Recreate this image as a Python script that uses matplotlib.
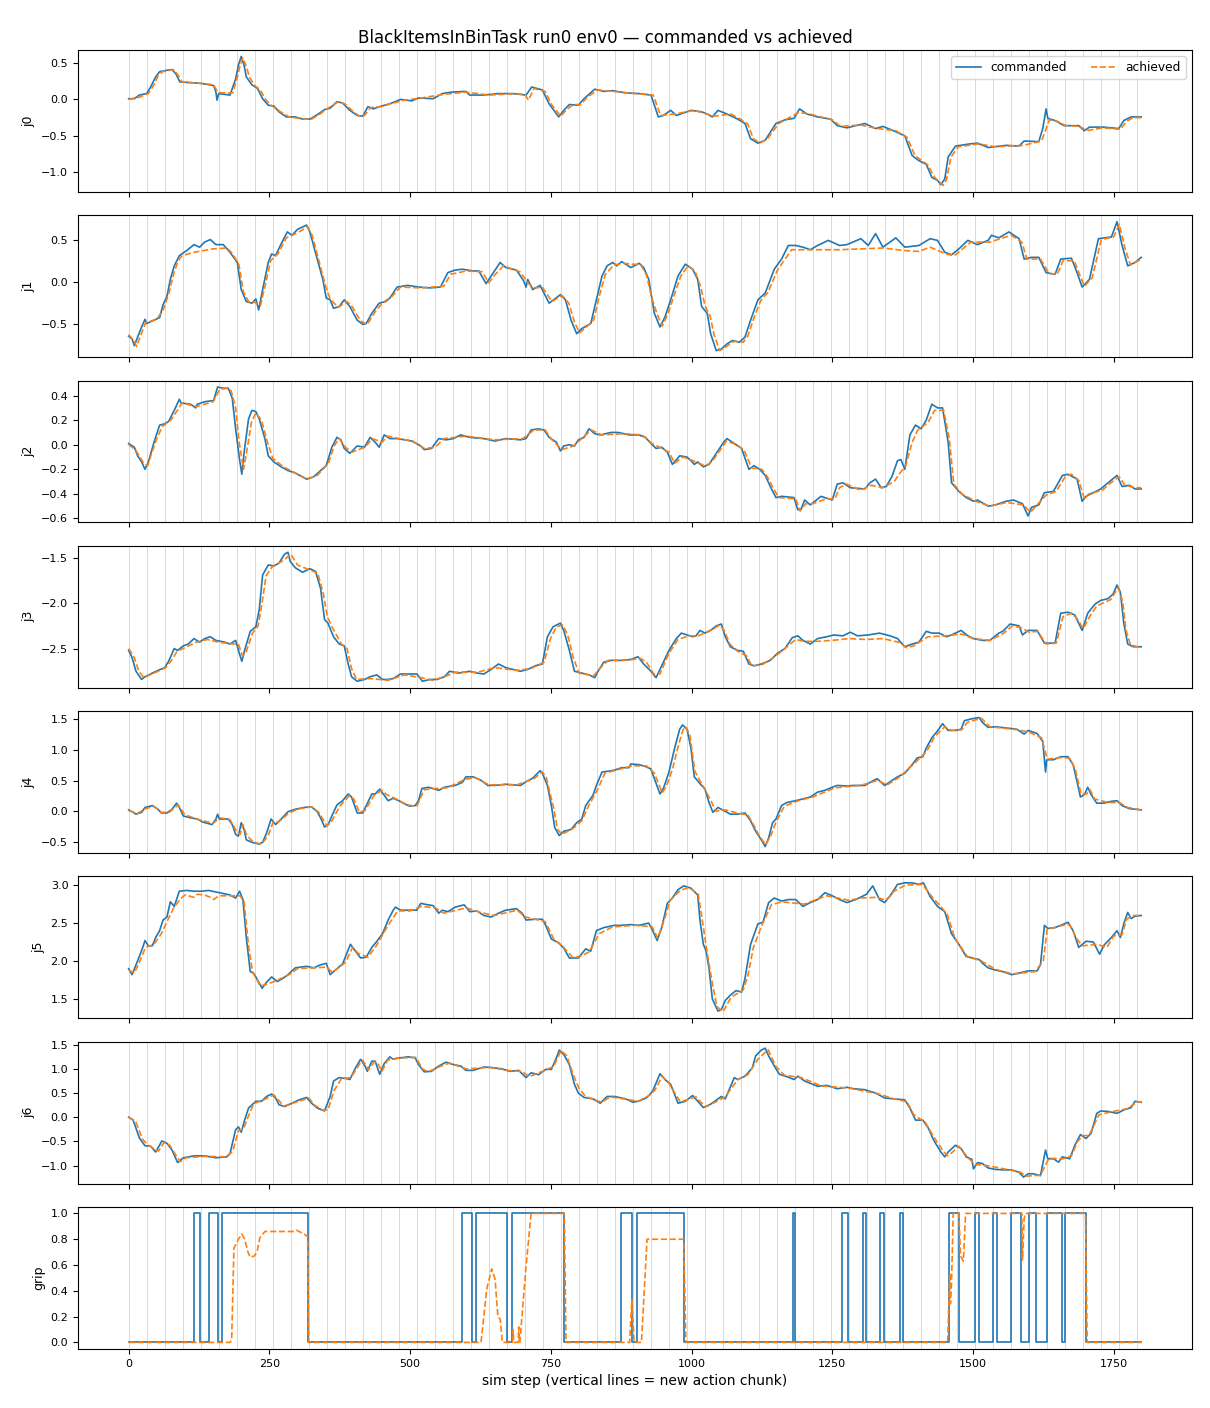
import numpy as np
import matplotlib
matplotlib.use("Agg")
import matplotlib.pyplot as plt

TITLE = "BlackItemsInBinTask run0 env0 — commanded vs achieved"
N_STEPS = 1800
CHUNK = 32  # steps per action chunk (vertical lines)

# ── joint traces, (sim step, value) ──
j0_cmd = [(0,0.01),(10,0.01),(19,0.06),(32,0.08),(39,0.17),(48,0.31),(55,0.38),(68,0.40),(77,0.41),(84,0.35),(91,0.24),(110,0.23),(129,0.22),(151,0.19),(155,0.10),(157,-0.01),(160,0.08),(180,0.06),(190,0.28),(195,0.47),(200,0.59),(205,0.47),(209,0.31),(219,0.20),(229,0.15),(238,0.01),(248,-0.08),(258,-0.09),(267,-0.17),(280,-0.24),(296,-0.24),(309,-0.27),(322,-0.27),(335,-0.21),(348,-0.14),(358,-0.12),(370,-0.03),(380,-0.05),(393,-0.15),(406,-0.22),(416,-0.23),(425,-0.10),(435,-0.13),(445,-0.10),(464,-0.06),(483,0.00),(503,-0.02),(515,0.02),(541,0.01),(557,0.08),(573,0.10),(599,0.11),(606,0.06),(631,0.06),(657,0.08),(683,0.08),(706,0.06),(716,0.17),(735,0.13),(747,-0.06),(764,-0.24),(773,-0.15),(783,-0.07),(799,-0.08),(809,0.01),(828,0.14),(844,0.11),(860,0.12),(883,0.09),(907,0.08),
          (928,0.06),(941,-0.24),(950,-0.22),(963,-0.15),(973,-0.22),(999,-0.15),(1018,-0.17),(1028,-0.20),(1037,-0.24),(1047,-0.15),(1063,-0.20),(1082,-0.27),(1095,-0.33),(1105,-0.54),(1118,-0.60),(1131,-0.56),(1150,-0.33),(1166,-0.28),(1182,-0.26),(1192,-0.13),(1205,-0.20),(1224,-0.24),(1247,-0.27),(1259,-0.36),(1276,-0.39),(1308,-0.33),(1327,-0.40),(1340,-0.37),(1359,-0.43),(1379,-0.50),(1392,-0.77),(1404,-0.84),(1417,-0.89),(1427,-1.07),(1437,-1.11),(1443,-1.17),(1450,-1.09),(1456,-0.79),(1469,-0.64),(1495,-0.61),(1508,-0.60),(1527,-0.66),(1559,-0.63),(1582,-0.64),(1591,-0.57),(1617,-0.58),(1624,-0.40),(1630,-0.13),(1633,-0.26),(1646,-0.29),(1662,-0.36),(1688,-0.36),(1698,-0.43),(1707,-0.38),(1733,-0.38),(1759,-0.40),(1768,-0.29),(1781,-0.24),(1799,-0.24)]
j0_ach = [(0,0.00),(19,0.03),(35,0.08),(45,0.20),(52,0.32),(60,0.38),(80,0.41),(88,0.33),(95,0.24),(129,0.22),(151,0.20),(158,0.10),(165,0.09),(185,0.09),(193,0.30),(198,0.47),(203,0.57),(209,0.45),(215,0.30),(224,0.19),(234,0.13),(243,0.00),(253,-0.08),(270,-0.17),(285,-0.24),(312,-0.27),(325,-0.27),(340,-0.20),(352,-0.13),(373,-0.03),(384,-0.06),(398,-0.16),(410,-0.23),(419,-0.22),(430,-0.11),(449,-0.10),(470,-0.05),(490,-0.01),(520,0.02),(560,0.07),(600,0.10),(640,0.06),(690,0.08),(705,0.06),(710,-0.01),(714,0.05),(720,0.15),(740,0.11),(752,-0.08),(768,-0.23),(778,-0.14),(790,-0.07),(803,-0.07),(815,0.03),(833,0.13),(860,0.11),(900,0.08),(932,0.06),(945,-0.22),(970,-0.20),(1005,-0.15),(1040,-0.23),(1070,-0.20),(1087,-0.27),(1100,-0.34),(1110,-0.54),(1122,-0.60),(1136,-0.53),(1155,-0.33),(1190,-0.18),(1210,-0.20),(1250,-0.28),(1265,-0.37),(1300,-0.35),(1330,-0.40),(1363,-0.43),(1383,-0.52),(1397,-0.77),(1420,-0.90),(1432,-1.07),(1447,-1.18),(1453,-1.10),(1461,-0.79),(1474,-0.65),(1510,-0.61),(1540,-0.65),(1590,-0.63),(1622,-0.57),(1630,-0.40),(1636,-0.28),(1650,-0.30),(1665,-0.36),(1690,-0.37),(1702,-0.43),(1730,-0.39),(1762,-0.41),(1773,-0.30),(1785,-0.25),(1799,-0.25)]

j1_cmd = [(0,-0.64),(6,-0.67),(10,-0.75),(16,-0.65),(23,-0.53),(29,-0.44),(32,-0.49),(45,-0.45),(55,-0.42),(61,-0.27),(68,-0.17),(74,0.03),(81,0.19),(90,0.31),(103,0.37),(116,0.44),(126,0.41),(135,0.47),(145,0.50),(155,0.44),(168,0.44),(180,0.35),(193,0.23),(200,-0.09),(209,-0.23),(219,-0.25),(226,-0.20),(231,-0.33),(238,-0.09),(248,0.23),(254,0.33),(261,0.31),(271,0.45),(282,0.59),(290,0.55),(300,0.62),(316,0.67),(322,0.59),(335,0.27),(345,0.03),(351,-0.19),(358,-0.21),(364,-0.31),(374,-0.29),(383,-0.21),(393,-0.29),(406,-0.45),(416,-0.50),(422,-0.49),(432,-0.37),(445,-0.25),(457,-0.23),(464,-0.19),(477,-0.06),(496,-0.04),(515,-0.06),(535,-0.07),(554,-0.06),(567,0.11),(580,0.14),(593,0.15),(612,0.13),(622,0.13),(635,-0.02),(644,0.07),(660,0.23),(670,0.17),(689,0.14),(702,0.01),(706,-0.06),(709,0.03),(718,-0.09),(731,-0.04),(747,-0.25),(767,-0.15),(776,-0.21),(786,-0.45),(796,-0.61),(805,-0.55),(821,-0.49),(831,-0.21),(841,0.07),(850,0.19),(860,0.23),(867,0.19),(876,0.24),(892,0.17),(907,0.22),
          (915,0.17),(924,0.03),(934,-0.37),(944,-0.53),(953,-0.41),(963,-0.21),(976,0.07),(989,0.21),(1002,0.15),(1011,0.03),(1018,-0.29),(1028,-0.37),(1034,-0.61),(1044,-0.81),(1053,-0.79),(1063,-0.73),(1073,-0.69),(1085,-0.71),(1095,-0.65),(1105,-0.45),(1118,-0.21),(1131,-0.13),(1147,0.15),(1160,0.27),(1172,0.43),(1185,0.43),(1198,0.41),(1211,0.38),(1224,0.43),(1243,0.49),(1263,0.43),(1276,0.44),(1301,0.51),(1314,0.43),(1327,0.57),(1340,0.41),(1363,0.52),(1379,0.41),(1404,0.43),(1424,0.51),(1437,0.49),(1450,0.35),(1462,0.32),(1475,0.39),(1491,0.49),(1508,0.44),(1527,0.49),(1533,0.55),(1546,0.52),(1564,0.59),(1582,0.51),(1591,0.27),(1604,0.29),(1617,0.29),(1630,0.11),(1646,0.09),(1656,0.27),(1675,0.28),(1685,0.11),(1694,-0.06),(1707,0.03),(1723,0.51),(1746,0.53),(1756,0.71),(1765,0.43),(1775,0.19),(1788,0.23),(1799,0.29)]
j1_ach = [(0,-0.62),(10,-0.70),(14,-0.76),(22,-0.62),(30,-0.48),(50,-0.44),(62,-0.32),(72,-0.12),(80,0.10),(88,0.25),(95,0.31),(116,0.35),(150,0.39),(175,0.40),(185,0.33),(196,0.20),(204,-0.12),(214,-0.24),(224,-0.24),(234,-0.28),(244,0.00),(252,0.25),(265,0.33),(280,0.52),(300,0.58),(318,0.65),(326,0.55),(340,0.20),(350,-0.05),(358,-0.20),(372,-0.30),(388,-0.23),(398,-0.30),(412,-0.46),(424,-0.50),(438,-0.35),(452,-0.24),(468,-0.17),(483,-0.06),(520,-0.07),(560,-0.05),(572,0.09),(600,0.13),(628,0.12),(640,-0.01),(650,0.08),(666,0.19),(695,0.12),(712,-0.03),(722,-0.07),(735,-0.06),(752,-0.23),(770,-0.16),(782,-0.25),(792,-0.47),(801,-0.60),(812,-0.54),(826,-0.45),(836,-0.17),(847,0.09),(862,0.20),(880,0.22),(910,0.20),(920,0.08),(930,-0.20),(939,-0.38),(948,-0.52),(958,-0.38),(968,-0.18),(981,0.07),(994,0.19),(1006,0.13),(1016,-0.05),(1024,-0.28),(1033,-0.40),(1040,-0.62),(1050,-0.81),(1060,-0.77),(1075,-0.70),(1092,-0.71),(1100,-0.64),(1110,-0.44),(1123,-0.22),(1136,-0.12),(1152,0.13),(1165,0.26),(1178,0.38),(1211,0.38),(1263,0.38),(1301,0.39),(1340,0.40),(1379,0.37),(1404,0.36),(1424,0.41),(1452,0.33),(1467,0.31),(1480,0.38),(1496,0.47),(1530,0.47),(1568,0.55),(1587,0.47),(1596,0.27),(1620,0.27),(1635,0.10),(1650,0.09),(1660,0.25),(1680,0.25),(1690,0.08),(1698,-0.05),(1712,0.05),(1728,0.50),(1750,0.53),(1760,0.68),(1770,0.40),(1780,0.20),(1799,0.27)]

j2_cmd = [(0,0.01),(10,-0.02),(16,-0.09),(23,-0.14),(29,-0.20),(35,-0.14),(45,0.02),(55,0.16),(64,0.17),(71,0.19),(81,0.28),(90,0.37),(93,0.34),(110,0.33),(119,0.30),(122,0.33),(135,0.35),(151,0.36),(158,0.47),(168,0.46),(177,0.46),(184,0.38),(190,0.13),(197,-0.12),(201,-0.24),(206,-0.03),(213,0.21),(219,0.28),(226,0.27),(232,0.21),(242,0.05),(248,-0.09),(258,-0.14),(271,-0.18),(283,-0.21),(296,-0.23),(316,-0.28),(329,-0.26),(341,-0.21),(351,-0.17),(361,-0.02),(370,0.06),(377,0.04),(383,-0.03),(393,-0.07),(406,-0.01),(419,-0.02),(429,0.06),(438,0.02),(445,-0.02),(454,0.08),(464,0.05),(477,0.05),(503,0.03),(519,-0.01),(525,-0.04),(538,-0.03),(551,0.05),(564,0.04),(577,0.05),(590,0.08),(606,0.06),(631,0.05),(651,0.03),(670,0.05),(696,0.04),(706,0.05),(715,0.12),(728,0.13),(738,0.12),(747,0.06),(760,0.02),(767,-0.05),(773,-0.01),(783,0.00),(792,-0.01),(799,0.04),(809,0.06),(818,0.13),(828,0.09),(838,0.08),(857,0.10),(870,0.10),(889,0.08),(907,0.08),
          (918,0.06),(928,0.01),(937,-0.03),(947,-0.02),(957,-0.06),(966,-0.16),(979,-0.09),(992,-0.10),(999,-0.13),(1005,-0.16),(1011,-0.14),(1021,-0.18),(1031,-0.16),(1044,-0.07),(1057,0.02),(1063,0.05),(1076,0.01),(1089,-0.03),(1102,-0.20),(1111,-0.17),(1121,-0.20),(1131,-0.25),(1140,-0.34),(1150,-0.43),(1160,-0.42),(1182,-0.43),(1189,-0.53),(1195,-0.52),(1201,-0.45),(1211,-0.49),(1230,-0.42),(1250,-0.45),(1259,-0.32),(1269,-0.31),(1282,-0.35),(1308,-0.36),(1317,-0.31),(1327,-0.28),(1337,-0.35),(1346,-0.34),(1356,-0.26),(1366,-0.13),(1372,-0.12),(1379,-0.20),(1388,0.08),(1398,0.16),(1408,0.13),(1417,0.20),(1427,0.33),(1437,0.30),(1446,0.30),(1456,0.02),(1462,-0.31),(1475,-0.38),(1488,-0.43),(1501,-0.46),(1508,-0.45),(1527,-0.50),(1540,-0.49),(1559,-0.46),(1572,-0.45),(1588,-0.48),(1598,-0.58),(1604,-0.51),(1617,-0.49),(1627,-0.39),(1643,-0.38),(1659,-0.25),(1669,-0.24),(1685,-0.28),(1694,-0.46),(1701,-0.42),(1727,-0.36),(1740,-0.31),(1756,-0.25),(1765,-0.34),(1778,-0.33),(1788,-0.36),(1799,-0.36)]
j2_ach = [(0,0.00),(12,-0.04),(20,-0.10),(28,-0.16),(34,-0.17),(40,-0.08),(50,0.05),(60,0.15),(75,0.20),(85,0.27),(95,0.34),(120,0.31),(150,0.35),(162,0.45),(175,0.46),(182,0.44),(190,0.30),(196,0.03),(204,-0.20),(210,-0.05),(218,0.18),(226,0.26),(236,0.20),(246,0.03),(256,-0.11),(275,-0.18),(300,-0.24),(318,-0.28),(335,-0.25),(355,-0.15),(365,-0.01),(374,0.05),(385,-0.02),(397,-0.06),(420,-0.02),(433,0.05),(450,0.02),(460,0.07),(480,0.05),(505,0.03),(525,-0.03),(545,-0.02),(560,0.05),(600,0.07),(650,0.04),(700,0.05),(720,0.12),(740,0.12),(752,0.04),(770,-0.04),(790,-0.01),(805,0.05),(822,0.12),(840,0.08),(880,0.09),(912,0.08),(930,0.01),(960,-0.06),(970,-0.15),(985,-0.10),(1003,-0.13),(1012,-0.15),(1025,-0.17),(1036,-0.14),(1050,-0.05),(1062,0.03),(1080,0.00),(1093,-0.04),(1107,-0.19),(1125,-0.20),(1136,-0.27),(1146,-0.36),(1155,-0.43),(1185,-0.44),(1193,-0.54),(1203,-0.48),(1215,-0.48),(1240,-0.44),(1255,-0.44),(1263,-0.35),(1275,-0.32),(1300,-0.37),(1320,-0.33),(1340,-0.35),(1360,-0.30),(1372,-0.22),(1380,-0.18),(1392,0.02),(1402,0.12),(1420,0.18),(1432,0.28),(1448,0.28),(1458,0.05),(1466,-0.32),(1480,-0.40),(1505,-0.46),(1530,-0.50),(1560,-0.47),(1590,-0.49),(1602,-0.55),(1610,-0.51),(1630,-0.41),(1648,-0.38),(1664,-0.26),(1675,-0.24),(1688,-0.29),(1698,-0.44),(1706,-0.40),(1730,-0.37),(1745,-0.31),(1760,-0.26),(1770,-0.33),(1790,-0.35),(1799,-0.35)]

j3_cmd = [(0,-2.52),(6,-2.60),(13,-2.75),(23,-2.84),(29,-2.81),(42,-2.77),(52,-2.74),(64,-2.71),(71,-2.64),(81,-2.50),(87,-2.52),(97,-2.47),(106,-2.45),(116,-2.39),(126,-2.43),(135,-2.39),(145,-2.37),(155,-2.41),(171,-2.43),(180,-2.45),(190,-2.41),(197,-2.56),(201,-2.64),(206,-2.52),(216,-2.31),(226,-2.26),(232,-2.07),(238,-1.69),(248,-1.58),(258,-1.59),(267,-1.56),(277,-1.46),(283,-1.44),(287,-1.54),(296,-1.61),(309,-1.66),(322,-1.62),(332,-1.65),(341,-1.84),(348,-2.18),(354,-2.22),(364,-2.37),(374,-2.45),(383,-2.47),(390,-2.67),(396,-2.81),(406,-2.86),(419,-2.84),(429,-2.81),(441,-2.79),(451,-2.84),(461,-2.84),(470,-2.83),(483,-2.78),(496,-2.78),(512,-2.78),(522,-2.86),(535,-2.84),(548,-2.84),(561,-2.81),(570,-2.75),(586,-2.77),(606,-2.75),(619,-2.77),(631,-2.78),(644,-2.73),(657,-2.67),(670,-2.71),(683,-2.73),(696,-2.75),(709,-2.73),(722,-2.69),(735,-2.67),(744,-2.37),(754,-2.26),(767,-2.22),(773,-2.30),(783,-2.52),(792,-2.75),(805,-2.77),(818,-2.79),(828,-2.82),(834,-2.75),(844,-2.65),(857,-2.63),(876,-2.63),(892,-2.62),(905,-2.59),
          (915,-2.67),(928,-2.75),(937,-2.82),(947,-2.69),(960,-2.52),(973,-2.39),(982,-2.33),(992,-2.35),(1002,-2.37),(1008,-2.36),(1015,-2.30),(1024,-2.33),(1034,-2.30),(1044,-2.25),(1053,-2.23),(1060,-2.37),(1069,-2.48),(1082,-2.52),(1092,-2.53),(1102,-2.67),(1111,-2.69),(1124,-2.67),(1140,-2.63),(1153,-2.55),(1166,-2.50),(1179,-2.38),(1189,-2.36),(1198,-2.41),(1211,-2.45),(1224,-2.39),(1240,-2.37),(1253,-2.35),(1269,-2.36),(1282,-2.32),(1295,-2.36),(1314,-2.35),(1334,-2.33),(1353,-2.36),(1366,-2.39),(1379,-2.48),(1392,-2.45),(1404,-2.43),(1417,-2.31),(1427,-2.33),(1440,-2.33),(1453,-2.37),(1462,-2.35),(1479,-2.30),(1491,-2.36),(1501,-2.39),(1517,-2.41),(1530,-2.41),(1546,-2.33),(1553,-2.31),(1566,-2.23),(1582,-2.25),(1588,-2.35),(1598,-2.30),(1614,-2.30),(1627,-2.44),(1646,-2.44),(1656,-2.11),(1669,-2.10),(1681,-2.13),(1691,-2.26),(1694,-2.30),(1704,-2.11),(1717,-2.01),(1727,-1.97),(1740,-1.95),(1749,-1.90),(1756,-1.80),(1762,-1.88),(1768,-2.22),(1775,-2.45),(1785,-2.48),(1799,-2.48)]
j3_ach = [(0,-2.50),(10,-2.60),(18,-2.75),(27,-2.82),(45,-2.77),(66,-2.71),(76,-2.63),(86,-2.53),(100,-2.49),(120,-2.43),(140,-2.40),(160,-2.43),(185,-2.45),(195,-2.45),(202,-2.58),(208,-2.55),(220,-2.33),(230,-2.25),(237,-2.00),(244,-1.70),(255,-1.60),(275,-1.53),(288,-1.46),(300,-1.58),(320,-1.63),(336,-1.67),(346,-1.90),(353,-2.15),(362,-2.27),(378,-2.45),(388,-2.50),(396,-2.72),(405,-2.84),(430,-2.83),(460,-2.85),(490,-2.79),(520,-2.82),(540,-2.85),(565,-2.80),(580,-2.76),(620,-2.76),(650,-2.71),(690,-2.74),(715,-2.72),(738,-2.65),(750,-2.38),(760,-2.26),(771,-2.24),(780,-2.35),(790,-2.60),(800,-2.77),(826,-2.80),(840,-2.70),(852,-2.63),(880,-2.63),(910,-2.61),(920,-2.65),(933,-2.78),(944,-2.78),(960,-2.55),(976,-2.40),(995,-2.36),(1012,-2.36),(1040,-2.28),(1050,-2.24),(1058,-2.30),(1068,-2.45),(1082,-2.53),(1098,-2.58),(1107,-2.69),(1125,-2.68),(1150,-2.58),(1170,-2.48),(1185,-2.40),(1200,-2.42),(1225,-2.42),(1250,-2.41),(1280,-2.39),(1310,-2.40),(1340,-2.39),(1368,-2.43),(1382,-2.49),(1395,-2.47),(1420,-2.37),(1450,-2.36),(1480,-2.34),(1500,-2.39),(1530,-2.41),(1555,-2.33),(1570,-2.25),(1585,-2.27),(1600,-2.32),(1615,-2.31),(1630,-2.45),(1648,-2.44),(1660,-2.15),(1675,-2.11),(1685,-2.17),(1696,-2.28),(1708,-2.14),(1720,-2.03),(1745,-1.96),(1758,-1.83),(1766,-1.98),(1772,-2.30),(1780,-2.46),(1799,-2.49)]

j4_cmd = [(0,0.02),(6,-0.01),(13,-0.05),(23,-0.02),(29,0.06),(42,0.09),(52,0.03),(58,-0.03),(68,-0.03),(77,0.03),(85,0.13),(90,0.06),(97,-0.08),(110,-0.11),(122,-0.13),(132,-0.18),(148,-0.22),(155,-0.13),(158,-0.05),(161,-0.13),(177,-0.13),(184,-0.22),(190,-0.38),(195,-0.41),(200,-0.19),(205,-0.30),(209,-0.47),(219,-0.51),(232,-0.54),(238,-0.51),(245,-0.36),(253,-0.13),(261,-0.22),(271,-0.13),(283,-0.01),(296,0.03),(312,0.06),(325,0.07),(335,-0.01),(341,-0.11),(348,-0.26),(354,-0.23),(361,-0.08),(370,0.10),(380,0.17),(390,0.28),(396,0.23),(406,-0.03),(416,-0.03),(419,0.03),(432,0.28),(438,0.28),(446,0.36),(454,0.26),(461,0.17),(470,0.21),(480,0.17),(490,0.12),(499,0.08),(509,0.09),(515,0.17),(521,0.37),(532,0.39),(541,0.37),(551,0.34),(561,0.39),(580,0.42),(593,0.47),(599,0.56),(612,0.56),(625,0.51),(638,0.42),(651,0.42),(670,0.44),(683,0.43),(696,0.42),(706,0.48),(718,0.54),(731,0.66),(735,0.62),(744,0.42),(751,0.09),(757,-0.27),(765,-0.40),(773,-0.33),(786,-0.30),(796,-0.19),(805,-0.13),(812,0.09),(825,0.26),(831,0.42),(841,0.64),(850,0.65),(863,0.67),(876,0.71),(889,0.71),(892,0.77),(907,0.76),
          (918,0.73),(928,0.69),(934,0.53),(944,0.28),(950,0.37),(960,0.64),(970,1.03),(979,1.34),(984,1.41),(992,1.34),(999,1.03),(1005,0.56),(1015,0.45),(1024,0.36),(1031,0.14),(1038,-0.02),(1047,0.06),(1057,0.01),(1069,-0.05),(1082,-0.05),(1095,-0.03),(1105,-0.16),(1114,-0.33),(1124,-0.47),(1131,-0.58),(1137,-0.44),(1144,-0.19),(1150,-0.13),(1160,0.09),(1169,0.14),(1185,0.17),(1198,0.20),(1211,0.23),(1224,0.31),(1237,0.34),(1250,0.39),(1259,0.42),(1276,0.41),(1288,0.42),(1308,0.42),(1321,0.49),(1330,0.53),(1343,0.42),(1353,0.48),(1366,0.56),(1379,0.62),(1392,0.76),(1401,0.87),(1411,0.89),(1417,1.03),(1427,1.20),(1437,1.31),(1446,1.43),(1456,1.32),(1469,1.32),(1479,1.34),(1485,1.48),(1498,1.51),(1511,1.53),(1517,1.45),(1527,1.37),(1540,1.38),(1559,1.36),(1578,1.34),(1591,1.26),(1598,1.32),(1614,1.27),(1624,1.14),(1629,0.64),(1631,0.84),(1643,0.84),(1656,0.89),(1669,0.89),(1678,0.76),(1685,0.48),(1691,0.23),(1698,0.27),(1704,0.39),(1710,0.27),(1720,0.13),(1733,0.13),(1746,0.16),(1756,0.17),(1765,0.09),(1778,0.04),(1799,0.02)]
j4_ach = [(0,0.01),(15,-0.04),(30,0.04),(45,0.08),(58,-0.02),(72,-0.02),(88,0.10),(100,-0.06),(125,-0.14),(150,-0.20),(162,-0.11),(180,-0.14),(193,-0.35),(198,-0.38),(203,-0.22),(210,-0.40),(222,-0.51),(236,-0.54),(248,-0.40),(257,-0.17),(266,-0.18),(285,-0.03),(300,0.03),(325,0.07),(338,-0.02),(352,-0.24),(360,-0.18),(375,0.08),(392,0.25),(400,0.20),(410,-0.02),(420,0.01),(436,0.26),(450,0.34),(458,0.27),(475,0.20),(495,0.10),(512,0.08),(525,0.35),(545,0.37),(565,0.38),(598,0.52),(615,0.55),(640,0.43),(690,0.43),(720,0.53),(735,0.64),(742,0.55),(755,0.05),(762,-0.30),(770,-0.38),(790,-0.28),(805,-0.16),(818,0.10),(833,0.35),(846,0.62),(870,0.68),(895,0.74),(920,0.74),(934,0.62),(948,0.30),(955,0.40),(966,0.68),(976,1.05),(985,1.33),(990,1.38),(997,1.25),(1006,0.65),(1018,0.45),(1034,0.18),(1043,0.00),(1060,0.02),(1085,-0.04),(1100,-0.06),(1110,-0.22),(1120,-0.40),(1132,-0.55),(1142,-0.38),(1150,-0.18),(1165,0.08),(1190,0.17),(1215,0.23),(1255,0.38),(1300,0.42),(1330,0.50),(1348,0.43),(1370,0.56),(1396,0.78),(1418,0.98),(1432,1.22),(1450,1.38),(1462,1.32),(1480,1.33),(1490,1.45),(1515,1.52),(1530,1.38),(1580,1.33),(1600,1.29),(1622,1.20),(1632,0.85),(1660,0.88),(1672,0.86),(1682,0.68),(1692,0.28),(1702,0.28),(1708,0.35),(1716,0.20),(1740,0.14),(1760,0.14),(1775,0.06),(1799,0.02)]

j5_cmd = [(0,1.90),(6,1.82),(13,1.95),(19,2.06),(26,2.20),(29,2.27),(35,2.20),(42,2.20),(48,2.31),(55,2.40),(61,2.54),(68,2.58),(74,2.78),(81,2.72),(90,2.92),(103,2.93),(116,2.92),(129,2.92),(142,2.93),(155,2.91),(168,2.89),(180,2.87),(190,2.83),(197,2.92),(203,2.81),(209,2.31),(216,1.86),(222,1.84),(229,1.75),(237,1.64),(245,1.72),(254,1.79),(264,1.73),(274,1.77),(283,1.82),(296,1.91),(316,1.93),(329,1.91),(341,1.95),(351,1.97),(358,1.82),(367,1.88),(380,1.96),(387,2.09),(394,2.22),(403,2.13),(412,2.04),(422,2.05),(432,2.18),(441,2.26),(451,2.36),(461,2.54),(470,2.67),(474,2.71),(483,2.67),(496,2.67),(512,2.67),(519,2.76),(532,2.74),(541,2.73),(551,2.63),(557,2.67),(567,2.65),(580,2.71),(596,2.74),(606,2.65),(619,2.66),(631,2.60),(644,2.58),(657,2.63),(670,2.67),(689,2.69),(699,2.63),(706,2.54),(722,2.55),(735,2.55),(741,2.47),(751,2.29),(764,2.24),(773,2.17),(783,2.04),(799,2.04),(812,2.16),(821,2.13),(831,2.40),(844,2.44),(863,2.47),(876,2.47),(892,2.48),(907,2.47),
          (924,2.50),(931,2.40),(939,2.27),(947,2.44),(957,2.76),(966,2.83),(976,2.94),(986,2.99),(999,2.96),(1011,2.87),(1015,2.54),(1021,2.22),(1026,2.13),(1031,1.91),(1037,1.50),(1047,1.34),(1053,1.36),(1060,1.48),(1069,1.55),(1079,1.61),(1089,1.59),(1095,1.77),(1105,2.22),(1118,2.49),(1127,2.51),(1137,2.77),(1147,2.83),(1160,2.79),(1172,2.81),(1185,2.81),(1198,2.72),(1211,2.77),(1224,2.81),(1237,2.90),(1250,2.86),(1263,2.81),(1276,2.77),(1292,2.81),(1311,2.88),(1322,2.99),(1334,2.81),(1343,2.77),(1353,2.86),(1366,3.01),(1379,3.03),(1392,3.03),(1404,3.01),(1412,3.03),(1424,2.85),(1437,2.72),(1450,2.65),(1462,2.36),(1475,2.22),(1488,2.06),(1504,2.03),(1511,2.02),(1517,1.97),(1527,1.91),(1540,1.88),(1553,1.86),(1569,1.82),(1582,1.84),(1598,1.87),(1614,1.87),(1620,1.95),(1627,2.47),(1633,2.43),(1646,2.44),(1659,2.48),(1669,2.51),(1678,2.40),(1688,2.18),(1701,2.26),(1714,2.25),(1725,2.09),(1733,2.21),(1746,2.31),(1756,2.40),(1762,2.31),(1768,2.49),(1775,2.64),(1781,2.56),(1788,2.59),(1799,2.60)]
j5_ach = [(0,1.88),(10,1.84),(20,2.00),(30,2.18),(45,2.22),(58,2.36),(70,2.55),(80,2.70),(92,2.82),(100,2.87),(116,2.84),(122,2.88),(135,2.87),(145,2.84),(151,2.81),(160,2.86),(180,2.86),(198,2.86),(205,2.78),(213,2.20),(220,1.86),(234,1.67),(248,1.70),(262,1.74),(285,1.82),(300,1.90),(330,1.91),(352,1.92),(362,1.85),(385,1.98),(398,2.18),(408,2.10),(425,2.05),(440,2.20),(460,2.46),(478,2.66),(500,2.66),(520,2.72),(545,2.70),(560,2.63),(600,2.70),(625,2.64),(650,2.60),(690,2.67),(705,2.58),(740,2.52),(756,2.28),(770,2.20),(790,2.04),(805,2.07),(818,2.12),(836,2.36),(860,2.45),(900,2.47),(930,2.45),(940,2.30),(952,2.55),(962,2.80),(980,2.93),(995,2.97),(1012,2.88),(1020,2.50),(1028,2.10),(1036,1.75),(1045,1.40),(1056,1.33),(1070,1.52),(1092,1.62),(1100,1.80),(1110,2.18),(1125,2.47),(1142,2.74),(1160,2.78),(1200,2.75),(1240,2.86),(1280,2.80),(1300,2.83),(1330,2.84),(1345,2.80),(1360,2.92),(1380,3.00),(1410,3.01),(1428,2.84),(1445,2.70),(1455,2.60),(1468,2.30),(1490,2.06),(1515,2.00),(1540,1.89),(1570,1.83),(1610,1.86),(1625,2.00),(1632,2.42),(1660,2.47),(1672,2.48),(1684,2.30),(1694,2.20),(1720,2.22),(1738,2.18),(1750,2.33),(1765,2.35),(1773,2.55),(1785,2.60),(1799,2.60)]

j6_cmd = [(0,0.00),(8,-0.06),(13,-0.23),(19,-0.43),(29,-0.59),(39,-0.60),(48,-0.72),(59,-0.49),(68,-0.54),(77,-0.68),(87,-0.94),(97,-0.84),(116,-0.80),(135,-0.80),(155,-0.84),(174,-0.82),(180,-0.75),(190,-0.26),(195,-0.20),(200,-0.31),(206,-0.06),(213,0.19),(226,0.33),(236,0.33),(245,0.43),(254,0.48),(261,0.40),(267,0.26),(277,0.22),(290,0.29),(303,0.36),(316,0.41),(325,0.29),(335,0.19),(348,0.13),(358,0.43),(364,0.75),(374,0.82),(387,0.80),(393,0.78),(403,1.02),(412,1.20),(420,1.06),(424,0.95),(432,1.16),(438,1.16),(446,0.89),(454,1.11),(464,1.25),(470,1.20),(477,1.22),(496,1.25),(509,1.23),(515,1.09),(525,0.94),(538,0.95),(551,1.06),(564,1.14),(577,1.09),(590,1.06),(599,0.97),(612,0.97),(631,1.04),(644,1.03),(664,1.00),(677,0.95),(693,0.97),(706,0.82),(715,0.92),(728,0.88),(741,0.99),(751,0.99),(760,1.23),(765,1.39),(773,1.30),(783,1.09),(792,0.68),(799,0.50),(809,0.41),(825,0.38),(838,0.29),(850,0.43),(863,0.43),(883,0.38),(896,0.31),(908,0.34),
          (921,0.41),(931,0.54),(944,0.90),(953,0.78),(963,0.68),(976,0.29),(989,0.33),(1002,0.45),(1011,0.33),(1021,0.20),(1034,0.27),(1053,0.43),(1060,0.38),(1076,0.82),(1082,0.78),(1095,0.85),(1108,1.02),(1114,1.27),(1124,1.39),(1131,1.43),(1137,1.27),(1147,1.06),(1156,0.89),(1172,0.83),(1182,0.78),(1189,0.85),(1201,0.75),(1224,0.64),(1240,0.66),(1259,0.59),(1276,0.62),(1288,0.59),(1308,0.57),(1327,0.50),(1343,0.40),(1359,0.38),(1379,0.36),(1388,0.19),(1398,-0.06),(1411,-0.06),(1421,-0.23),(1430,-0.47),(1443,-0.72),(1450,-0.82),(1456,-0.72),(1469,-0.58),(1479,-0.65),(1488,-0.82),(1498,-0.87),(1501,-1.07),(1508,-0.94),(1517,-0.96),(1527,-1.05),(1540,-1.08),(1553,-1.09),(1569,-1.09),(1582,-1.14),(1590,-1.24),(1598,-1.17),(1607,-1.17),(1620,-1.21),(1629,-0.68),(1633,-0.86),(1643,-0.86),(1652,-0.93),(1659,-0.82),(1672,-0.86),(1681,-0.58),(1691,-0.36),(1701,-0.44),(1710,-0.33),(1720,0.08),(1727,0.13),(1740,0.12),(1756,0.08),(1768,0.15),(1781,0.20),(1788,0.33),(1799,0.31)]
j6_ach = [(0,0.00),(12,-0.08),(18,-0.25),(24,-0.45),(35,-0.58),(45,-0.65),(53,-0.70),(63,-0.52),(73,-0.58),(82,-0.75),(92,-0.92),(102,-0.84),(135,-0.81),(175,-0.82),(185,-0.70),(195,-0.28),(204,-0.24),(212,0.00),(222,0.28),(240,0.36),(258,0.46),(266,0.36),(275,0.23),(300,0.32),(320,0.40),(330,0.25),(345,0.15),(354,0.15),(365,0.55),(378,0.80),(395,0.82),(410,1.10),(416,1.18),(426,0.98),(436,1.14),(442,1.13),(450,0.95),(460,1.18),(475,1.22),(510,1.24),(522,1.00),(532,0.94),(555,1.06),(570,1.12),(600,1.00),(640,1.03),(680,0.96),(698,0.95),(712,0.84),(735,0.95),(755,1.05),(768,1.38),(778,1.28),(790,0.88),(800,0.60),(812,0.43),(840,0.31),(856,0.42),(885,0.37),(905,0.33),(925,0.45),(935,0.56),(948,0.85),(960,0.70),(980,0.32),(995,0.37),(1008,0.42),(1025,0.21),(1040,0.30),(1060,0.42),(1082,0.78),(1100,0.88),(1118,1.20),(1136,1.40),(1150,1.05),(1165,0.87),(1195,0.82),(1230,0.65),(1280,0.60),(1330,0.49),(1360,0.38),(1383,0.32),(1395,0.05),(1415,-0.10),(1430,-0.40),(1447,-0.70),(1455,-0.80),(1462,-0.74),(1475,-0.60),(1492,-0.85),(1505,-0.98),(1525,-1.00),(1560,-1.08),(1585,-1.14),(1594,-1.22),(1620,-1.20),(1635,-0.85),(1660,-0.86),(1675,-0.80),(1686,-0.50),(1696,-0.38),(1706,-0.38),(1724,0.05),(1745,0.11),(1775,0.18),(1792,0.32),(1799,0.31)]

# gripper: commanded is a binary step signal, achieved is continuous
grip_cmd_x = [0,116,126,142,158,165,318,593,610,617,672,681,774,875,894,904,986,1180,1183,1268,1278,1304,1310,1334,1342,1370,1375,1457,1476,1503,1511,1536,1542,1567,1585,1600,1612,1631,1659,1664,1700,1799]
grip_cmd_y = [0,1,0,1,0,1,0,1,0,1,0,1,0,1,0,1,0,1,0,1,0,1,0,1,0,1,0,1,0,1,0,1,0,1,0,1,0,1,0,1,0,0]
grip_ach = [(0,0),(180,0),(183,0.02),(187,0.73),(195,0.80),(201,0.84),(206,0.80),(212,0.70),(216,0.66),(223,0.67),(228,0.70),(233,0.81),(242,0.86),(293,0.86),(298,0.87),(312,0.84),(318,0.82),(320,0),(626,0),(631,0.20),(636,0.41),(645,0.57),(651,0.49),(656,0.20),(660,0.18),(664,0),(682,0),(683,0.10),(684,0),(692,0),(693,0.12),(694,0),(695,0),(706,0.59),(715,1.0),(774,1.0),(777,0),(890,0),(894,0.33),(898,0),(911,0),(921,0.8),(986,0.8),(990,0),(1455,0),(1459,0.54),(1460,0.30),(1462,0.46),(1465,1.0),(1475,1.0),(1478,0.67),(1483,0.63),(1487,1.0),(1587,1.0),(1588,0.64),(1591,0.96),(1593,1.0),(1700,1.0),(1703,0),(1799,0)]

joints = [
    ("j0", j0_cmd, j0_ach),
    ("j1", j1_cmd, j1_ach),
    ("j2", j2_cmd, j2_ach),
    ("j3", j3_cmd, j3_ach),
    ("j4", j4_cmd, j4_ach),
    ("j5", j5_cmd, j5_ach),
    ("j6", j6_cmd, j6_ach),
]

CMD_COLOR = "#1f77b4"
ACH_COLOR = "#ff7f0e"

fig, axes = plt.subplots(8, 1, figsize=(12.1, 14.08), dpi=100, sharex=True)
fig.subplots_adjust(left=0.0645, right=0.985, top=0.9645, bottom=0.042, hspace=0.165)

chunk_starts = np.arange(0, N_STEPS, CHUNK)

for ax, (name, cmd, ach) in zip(axes[:7], joints):
    for cs in chunk_starts:
        ax.axvline(cs, color="0.85", lw=0.7, zorder=0)
    cx, cy = np.array(cmd).T
    ax_, ay = np.array(ach).T
    ax.plot(cx, cy, color=CMD_COLOR, lw=1.2, label="commanded")
    ax.plot(ax_, ay, color=ACH_COLOR, lw=1.2, ls="--", label="achieved")
    ax.set_ylabel(name, fontsize=9)
    ax.tick_params(labelsize=8)

# gripper panel
gax = axes[7]
for cs in chunk_starts:
    gax.axvline(cs, color="0.85", lw=0.7, zorder=0)
gax.plot(grip_cmd_x, grip_cmd_y, color=CMD_COLOR, lw=1.2, drawstyle="steps-post")
gx, gy = np.array(grip_ach).T
gax.plot(gx, gy, color=ACH_COLOR, lw=1.2, ls="--")
gax.set_ylabel("grip", fontsize=9)
gax.tick_params(labelsize=8)
gax.set_xlabel("sim step (vertical lines = new action chunk)", fontsize=10)

axes[0].legend(loc="upper right", ncol=2, fontsize=8.8)
fig.suptitle(TITLE, fontsize=12, y=0.9795)

fig.savefig("out.png", dpi=100)
